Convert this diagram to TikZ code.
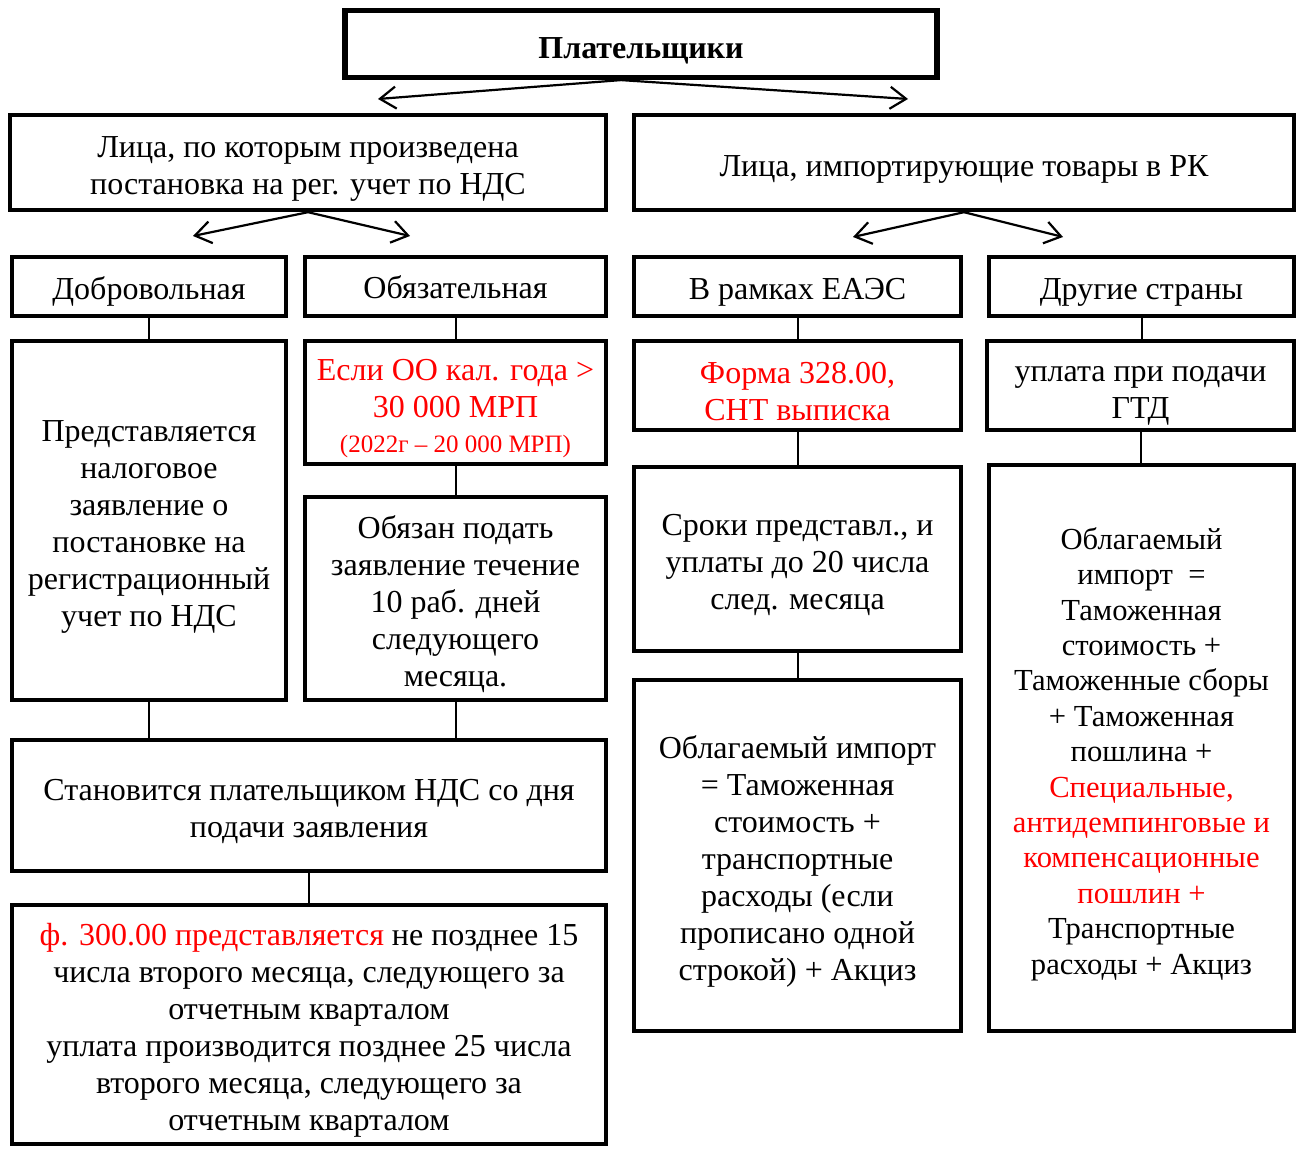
\documentclass[tikz,border=0pt]{standalone}
\usepackage{fontspec}
\setmainfont{Liberation Serif}
\usetikzlibrary{arrows.meta}
\definecolor{myred}{RGB}{255,0,0}
\newcommand\mystrut{\rule{0pt}{17pt}}
\begin{document}
\begin{tikzpicture}[x=0.5pt,y=-0.5pt,
  box/.style={draw, line width=2.2pt, inner sep=0pt, align=center, fill=white,
    font=\fontsize{16}{18.5}\selectfont},
  conn/.style={line width=1pt},
  arr/.style={line width=1.1pt, -{Straight Barb[length=8pt,width=11pt,line width=1.1pt]}}
]
\useasboundingbox (0,0) rectangle (1299,1149);
% free arrow ends
\coordinate (a1) at (378,99);
\coordinate (a2) at (908,99);
\coordinate (b1) at (193,236);
\coordinate (b2) at (410,236);
\coordinate (c1) at (853,237);
\coordinate (c2) at (1063,237);

% boxes
\node[box, line width=2.6pt, minimum width=296pt, minimum height=33.5pt,
  font=\fontsize{16}{18.5}\selectfont\bfseries] (top) at (641,44) {\mystrut Плательщики};

\node[box, minimum width=298pt, minimum height=47.5pt] (lica1) at (308,162.5)
  {\mystrut Лица, по которым произведена\\постановка на рег. учет по НДС};
\node[box, minimum width=330pt, minimum height=47.5pt] (lica2) at (964,162.5)
  {\mystrut Лица, импортирующие товары в РК};

\node[box, minimum width=137pt, minimum height=29.5pt] (dobr) at (149,286.5) {\rule{0pt}{16pt}Добровольная};
\node[box, minimum width=150.5pt, minimum height=29.5pt] (obyaz) at (455.5,286.5) {\rule{0pt}{12pt}Обязательная};
\node[box, minimum width=163.5pt, minimum height=29.5pt] (eaes) at (797.5,286.5) {\rule{0pt}{16pt}В рамках ЕАЭС};
\node[box, minimum width=152.5pt, minimum height=29.5pt] (drug) at (1141.5,286.5) {\rule{0pt}{16pt}Другие страны};

\node[box, minimum width=137pt, minimum height=179.5pt] (pred) at (149,520.5)
  {\mystrut Представляется\\налоговое\\заявление о\\постановке на\\регистрационный\\учет по НДС};
\node[box, minimum width=150.5pt, minimum height=61.5pt, text=myred] (esli) at (455.5,402.5)
  {\mystrut Если ОО кал. года >\\30 000 МРП\\[-1pt]{\fontsize{12.5}{14}\selectfont (2022г – 20 000 МРП)}};
\node[box, minimum width=150.5pt, minimum height=101.5pt] (obyazan) at (455.5,598.5)
  {\mystrut Обязан подать\\заявление течение\\10 раб. дней\\следующего\\месяца.};

\node[box, minimum width=163.5pt, minimum height=44.5pt, text=myred] (forma) at (797.5,385.5)
  {\mystrut Форма 328.00,\\СНТ выписка};
\node[box, minimum width=153.5pt, minimum height=44.5pt] (uplata) at (1140.5,385.5)
  {\rule{0pt}{17.5pt}уплата при подачи\\ГТД};
\node[box, minimum width=163.5pt, minimum height=92pt] (sroki) at (797.5,559)
  {\mystrut Сроки представл., и\\уплаты до 20 числа\\след. месяца};
\node[box, minimum width=163.5pt, minimum height=175.5pt] (oblL) at (797.5,855.5)
  {\mystrut Облагаемый импорт\\= Таможенная\\стоимость +\\транспортные\\расходы (если\\прописано одной\\строкой) + Акциз};
\node[box, minimum width=152.5pt, minimum height=283pt,
  font=\fontsize{15.3}{17.7}\selectfont] (oblR) at (1141.5,748)
  {\mystrut Облагаемый\\импорт~~=\\Таможенная\\стоимость +\\Таможенные сборы\\+ Таможенная\\пошлина +\\
   \textcolor{myred}{Специальные,}\\\textcolor{myred}{антидемпинговые и}\\\textcolor{myred}{компенсационные}\\\textcolor{myred}{пошлин +}\\Транспортные\\расходы + Акциз};

\node[box, minimum width=297pt, minimum height=65.5pt] (stan) at (309,805.5)
  {\mystrut Становится плательщиком НДС со дня\\подачи заявления};
\node[box, minimum width=297pt, minimum height=119.5pt] (f300) at (309,1024.5)
  {\mystrut\textcolor{myred}{ф. 300.00 представляется} не позднее 15\\числа второго месяца, следующего за\\отчетным кварталом\\уплата производится позднее 25 числа\\второго месяца, следующего за\\отчетным кварталом};

% arrows
\draw[arr] ([xshift=-10pt]top.south) -- (a1);
\draw[arr] ([xshift=-10pt]top.south) -- (a2);
\draw[arr] (lica1.south) -- (b1);
\draw[arr] (lica1.south) -- (b2);
\draw[arr] (lica2.south) -- (c1);
\draw[arr] (lica2.south) -- (c2);

% vertical connectors
\draw[conn] (dobr.south) -- (pred.north);
\draw[conn] (obyaz.south) -- (esli.north);
\draw[conn] (esli.south) -- (obyazan.north);
\draw[conn] (pred.south) -- (pred.south |- stan.north);
\draw[conn] (obyazan.south) -- (obyazan.south |- stan.north);
\draw[conn] (stan.south) -- (f300.north);
\draw[conn] (eaes.south) -- (forma.north);
\draw[conn] (forma.south) -- (sroki.north);
\draw[conn] (sroki.south) -- (oblL.north);
\draw[conn] (drug.south) -- (drug.south |- uplata.north);
\draw[conn] (uplata.south) -- (uplata.south |- oblR.north);
\end{tikzpicture}
\end{document}
